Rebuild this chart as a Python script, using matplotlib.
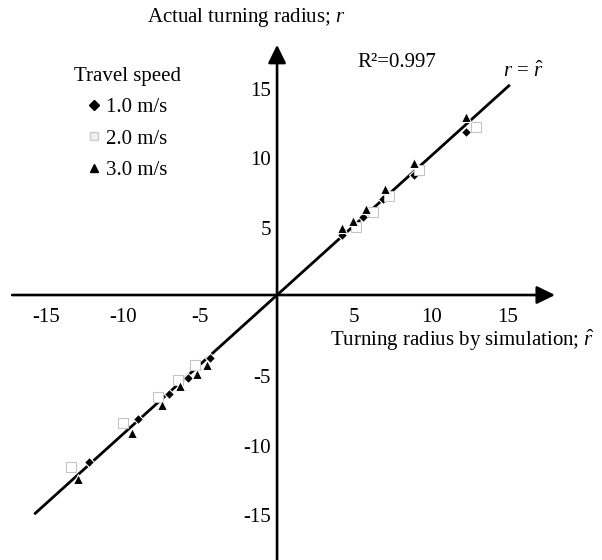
import matplotlib
matplotlib.use("Agg")
import matplotlib.pyplot as plt
from matplotlib.lines import Line2D
from matplotlib.transforms import offset_copy

plt.rcParams["font.family"] = ["Liberation Serif", "DejaVu Serif"]
plt.rcParams["mathtext.fontset"] = "custom"
plt.rcParams["mathtext.rm"] = "Liberation Serif"
plt.rcParams["mathtext.it"] = "Liberation Serif:italic"

# simulated (x) vs actual (y) turning radius, per travel speed
speed_labels = ["1.0 m/s", "2.0 m/s", "3.0 m/s"]
sim_10 = [-12.2, -9.0, -7.0, -5.8, -4.35, 4.2, 5.6, 6.9, 8.9, 12.3]
act_10 = [-12.0, -8.9, -7.1, -6.0, -4.5, 4.3, 5.6, 6.9, 8.6, 11.7]
sim_20 = [-13.4, -10.0, -7.7, -6.4, -5.3, 5.1, 6.2, 7.3, 9.2, 12.9]
act_20 = [-12.4, -9.2, -7.3, -6.1, -5.0, 4.9, 6.0, 7.1, 9.0, 12.1]
sim_30 = [-12.9, -9.4, -7.5, -6.3, -5.2, -4.55, 4.2, 4.9, 5.8, 7.0, 8.9, 12.3]
act_30 = [-13.2, -9.9, -7.9, -6.55, -5.7, -5.0, 4.8, 5.3, 6.2, 7.6, 9.5, 12.8]
line_ends = [-15.7, 15.05]
ticks = [-15, -10, -5, 5, 10, 15]
r2 = 0.997

FS = 15

fig = plt.figure(figsize=(6.02, 5.6), dpi=100)
ax = fig.add_axes([0, 0, 1, 1])
ax.set_xlim(-17.99, 21.1)
ax.set_ylim(-19.06, 21.22)
ax.axis("off")

# axes with arrow heads
arrow = dict(arrowstyle="-|>,head_length=0.55,head_width=0.27", mutation_scale=20,
             lw=1.9, color="black", shrinkA=0, shrinkB=0)
ax.annotate("", xy=(18.05, 0), xytext=(-17.2, 0), arrowprops=arrow)
ax.annotate("", xy=(0, 18.0), xytext=(0, -19.6), arrowprops=arrow)

# tick labels (hand placed in the original, negatives sit a bit low)
for t in ticks:
    ax.text(t, 0, str(t), fontsize=FS, ha="center", va="center",
            transform=offset_copy(ax.transData, fig, x=0, y=-22, units="dots"))
    dy = -5 if t > 0 else -14
    ax.text(0, t, str(t), fontsize=FS, ha="right", va="center",
            transform=offset_copy(ax.transData, fig, x=-6, y=dy, units="dots"))

# r = r-hat line
ax.plot(line_ends, line_ends, color="black", lw=2.0, zorder=2)

ax.plot(sim_10, act_10, "D", ms=5, mfc="black", mec="white", mew=0.8, ls="none", zorder=3)
ax.plot(sim_20, act_20, "s", ms=6.5, mfc="white", mec="#c4c4c4", mew=0.8, ls="none", zorder=3)
ax.plot(sim_30, act_30, "^", ms=7, mfc="black", mec="white", mew=0.8, ls="none", zorder=4)

ax.text(0.4086, 0.968, "Actual turning radius; $r$", transform=ax.transAxes,
        fontsize=FS, ha="center", va="center")
ax.text(0.548, 0.391, r"Turning radius by simulation; $\hat{r}$", transform=ax.transAxes,
        fontsize=FS, ha="left", va="center")
ax.text(0.593, 0.889, f"R²={r2}", transform=ax.transAxes,
        fontsize=FS, ha="left", va="center")
ax.text(0.8355, 0.871, r"$r$ = $\hat{r}$", transform=ax.transAxes,
        fontsize=FS, ha="left", va="center")

handles = [
    Line2D([], [], marker="D", ms=5, mfc="black", mec="black", ls="none"),
    Line2D([], [], marker="s", ms=6, mfc="#f0f0f0", mec="#cccccc", ls="none"),
    Line2D([], [], marker="^", ms=6, mfc="black", mec="black", ls="none"),
]
ax.legend(handles, speed_labels, title="Travel speed", loc="upper left",
          bbox_to_anchor=(0.123, 0.881), frameon=False, fontsize=FS,
          title_fontsize=FS, handlelength=0.6, handletextpad=0.31,
          labelspacing=0.57, borderpad=0, borderaxespad=0)

fig.savefig("out.png", dpi=100, facecolor="white")
